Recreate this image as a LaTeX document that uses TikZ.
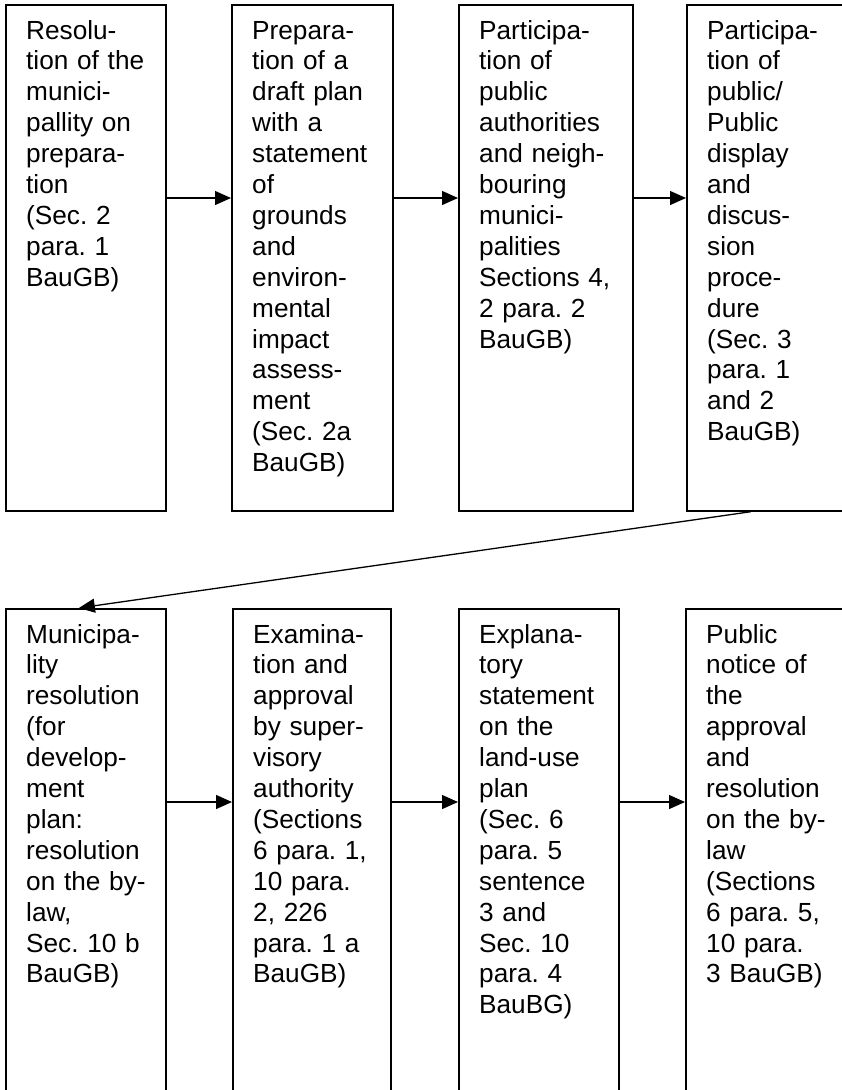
\documentclass[tikz,border=0pt]{standalone}
\usepackage{fontspec}
\setmainfont{Liberation Sans}
\usetikzlibrary{arrows.meta}
\frenchspacing
\tikzset{
  stage/.style={draw, line width=1.7pt, rectangle, inner sep=0pt, anchor=north west},
  txt/.style={anchor=base west, inner sep=0pt, text width=150pt, align=left,
    font=\fontsize{26.2pt}{30.9pt}\selectfont},
  flow/.style={line width=1.3pt, -{Triangle[length=16pt,width=14pt]}},
  inset/.style={shift={(21pt,-35pt)}},
}
\begin{document}
\begin{tikzpicture}[x=1pt,y=-1pt]
\useasboundingbox (0,0) rectangle (842,1090);

% first row of procedure stages
\node[stage, minimum width=160pt, minimum height=506pt] (s1) at (5,4) {};
\node[stage, minimum width=161pt, minimum height=506pt] (s2) at (231,4) {};
\node[stage, minimum width=174pt, minimum height=506pt] (s3) at (458,4) {};
\node[stage, minimum width=160pt, minimum height=506pt] (s4) at (686,4) {};

% second row of procedure stages
\node[stage, minimum width=160pt, minimum height=482pt] (s5) at (5,608) {};
\node[stage, minimum width=158pt, minimum height=482pt] (s6) at (232,608) {};
\node[stage, minimum width=160pt, minimum height=482pt] (s7) at (458,608) {};
\node[stage, minimum width=160pt, minimum height=482pt] (s8) at (685,608) {};

% texts
\node[txt] (t1) at ([inset]s1.north west) {Resolu-\\tion of the\\munici-\\pallity on\\prepara-\\tion\\(Sec. 2\\para. 1\\BauGB)};
\node[txt] (t2) at ([inset]s2.north west) {Prepara-\\tion of a\\draft plan\\with a\\statement\\of\\grounds\\and\\environ-\\mental\\impact\\assess-\\ment\\(Sec. 2a\\BauGB)};
\node[txt] (t3) at ([inset]s3.north west) {Participa-\\tion of\\public\\authorities\\and neigh-\\bouring\\munici-\\palities\\Sections 4,\\2 para. 2\\BauGB)};
\node[txt] (t4) at ([inset]s4.north west) {Participa-\\tion of\\public/\\Public\\display\\and\\discus-\\sion\\proce-\\dure\\(Sec. 3\\para. 1\\and 2\\BauGB)};
\node[txt] (t5) at ([inset]s5.north west) {Municipa-\\lity\\resolution\\(for\\develop-\\ment\\plan:\\resolution\\on the by-\\law,\\Sec. 10 b\\BauGB)};
\node[txt] (t6) at ([inset]s6.north west) {Examina-\\tion and\\approval\\by super-\\visory\\authority\\(Sections\\6 para. 1,\\10 para.\\2, 226\\para. 1 a\\BauGB)};
\node[txt] (t7) at ([inset]s7.north west) {Explana-\\tory\\statement\\on the\\land-use\\plan\\(Sec. 6\\para. 5\\sentence\\3 and\\Sec. 10\\para. 4\\BauBG)};
\node[txt] (t8) at ([inset]s8.north west) {Public\\notice of\\the\\approval\\and\\resolution\\on the by-\\law\\(Sections\\6 para. 5,\\10 para.\\3 BauGB)};

% connectors
\draw[flow] ([yshift=-194pt]s1.north east) -- ([yshift=-194pt]s2.north west);
\draw[flow] ([yshift=-194pt]s2.north east) -- ([yshift=-194pt]s3.north west);
\draw[flow] ([yshift=-194pt]s3.north east) -- ([yshift=-194pt]s4.north west);
\draw[flow] ([xshift=-16pt]s4.south) -- ([xshift=-7pt]s5.north);
\draw[flow] ([yshift=-194pt]s5.north east) -- ([yshift=-194pt]s6.north west);
\draw[flow] ([yshift=-194pt]s6.north east) -- ([yshift=-194pt]s7.north west);
\draw[flow] ([yshift=-194pt]s7.north east) -- ([yshift=-194pt]s8.north west);
\end{tikzpicture}
\end{document}
